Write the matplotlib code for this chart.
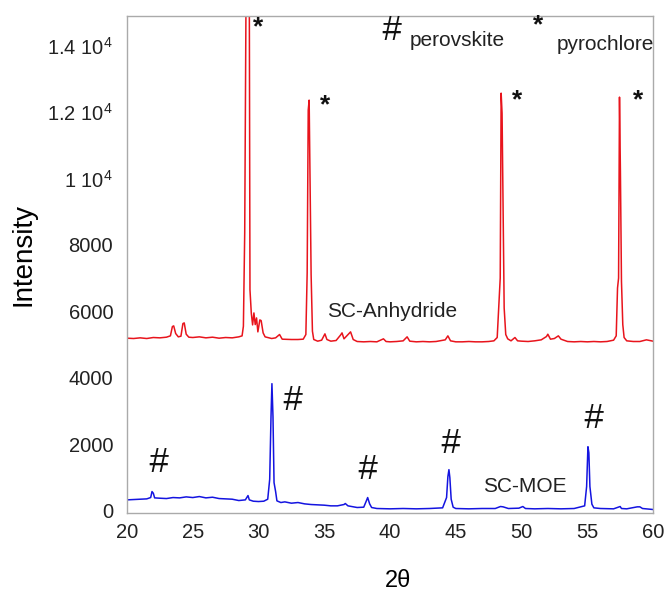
import matplotlib
matplotlib.use("Agg")
import matplotlib.pyplot as plt

plt.rcParams['font.family'] = ['Liberation Sans', 'DejaVu Sans']
plt.rcParams['mathtext.fontset'] = 'custom'
plt.rcParams['mathtext.rm'] = 'Liberation Sans'

# SC-Anhydride pattern (red)
red_x = [20.0, 20.5, 21.0, 21.5, 22.0, 22.5, 23.0, 23.3, 23.45, 23.55, 23.7, 23.9,
         24.1, 24.25, 24.35, 24.5, 24.7, 25.0, 25.5, 26.0, 26.5, 27.0, 27.5, 28.0,
         28.5, 28.75, 28.85, 28.95, 29.05, 29.15, 29.3, 29.35, 29.45, 29.55, 29.65,
         29.75, 29.85, 29.95, 30.1, 30.2, 30.35, 30.5, 30.8, 31.0, 31.3, 31.6, 31.8,
         32.5, 33.0, 33.4, 33.6, 33.7, 33.78, 33.85, 33.92, 34.0, 34.1, 34.2, 34.5,
         34.8, 35.05, 35.2, 35.5, 35.9, 36.25, 36.35, 36.5, 36.85, 37.0, 37.2, 37.5,
         38.0, 38.5, 39.0, 39.5, 39.7, 40.0, 40.5, 41.0, 41.3, 41.5, 42.0, 42.5, 43.0,
         43.5, 44.2, 44.4, 44.6, 45.0, 45.5, 46.0, 46.5, 47.0, 47.5, 47.9, 48.15,
         48.3, 48.38, 48.45, 48.52, 48.6, 48.68, 48.8, 48.95, 49.2, 49.5, 49.7, 50.0,
         50.5, 51.0, 51.5, 51.9, 52.0, 52.2, 52.5, 52.8, 53.0, 53.5, 54.0, 54.5, 55.0,
         55.5, 56.0, 56.5, 57.0, 57.2, 57.3, 57.38, 57.45, 57.52, 57.6, 57.7, 57.8,
         58.0, 58.5, 59.0, 59.5, 60.0]
red_y = [5190, 5180, 5200, 5180, 5210, 5200, 5220, 5260, 5540, 5560, 5330, 5230,
         5250, 5630, 5650, 5310, 5220, 5210, 5230, 5200, 5220, 5190, 5210, 5200,
         5230, 5260, 5550, 8360, 15500, 16500, 15500, 6650, 5950, 5590, 5950,
         5600, 5800, 5380, 5740, 5720, 5350, 5230, 5200, 5180, 5200, 5300, 5160,
         5150, 5150, 5160, 5300, 7160, 12060, 12360, 9950, 7100, 5400, 5150, 5100,
         5130, 5320, 5150, 5100, 5120, 5290, 5350, 5170, 5320, 5380, 5150, 5090,
         5080, 5090, 5080, 5170, 5090, 5080, 5090, 5110, 5230, 5100, 5080, 5090, 5080,
         5090, 5140, 5260, 5110, 5080, 5080, 5090, 5080, 5080, 5090, 5110, 5210,
         6400, 7000, 12570, 11970, 8900, 6100, 5300, 5170, 5110, 5210, 5110, 5100,
         5090, 5110, 5140, 5240, 5310, 5160, 5180, 5260, 5160, 5090, 5080, 5090, 5080,
         5090, 5080, 5090, 5130, 5260, 6700, 7000, 12450, 10200, 6900, 5600, 5210,
         5110, 5090, 5090, 5140, 5100]

# SC-MOE pattern (blue)
blue_x = [20.0, 20.5, 21.0, 21.5, 21.8, 21.9, 22.0, 22.1, 22.5, 23.0, 23.5, 24.0,
          24.5, 25.0, 25.5, 26.0, 26.5, 27.0, 27.5, 28.0, 28.5, 29.0, 29.2, 29.3,
          29.6, 30.0, 30.4, 30.7, 30.85, 30.95, 31.02, 31.1, 31.18, 31.3, 31.4, 31.7,
          32.0, 32.5, 33.0, 33.5, 34.0, 34.5, 35.0, 35.5, 36.0, 36.5, 36.6, 36.8,
          37.5, 38.0, 38.2, 38.3, 38.45, 38.6, 39.0, 40.0, 41.0, 42.0, 43.0, 44.0,
          44.3, 44.4, 44.48, 44.55, 44.65, 44.8, 45.0, 46.0, 47.0, 48.0, 48.4, 48.6,
          49.0, 49.8, 50.1, 50.3, 51.0, 52.0, 53.0, 54.0, 54.8, 54.95, 55.05, 55.12,
          55.2, 55.35, 55.5, 56.0, 57.0, 57.5, 57.6, 58.0, 58.8, 59.0, 59.2, 60.0]
blue_y = [320, 330, 340, 350, 390, 570, 520, 380, 370, 360, 390, 380,
          410, 390, 420, 380, 400, 360, 350, 340, 300, 320, 450, 320,
          280, 270, 280, 340, 940, 2830, 3820, 2830, 840, 570, 290, 240,
          260, 220, 240, 200, 180, 170, 160, 140, 140, 180, 210, 140,
          90, 100, 290, 390, 200, 90, 60, 50, 60, 50, 60, 80,
          390, 1020, 1230, 990, 340, 100, 60, 50, 60, 60, 120, 110,
          60, 70, 120, 60, 50, 60, 50, 60, 140, 720, 1920, 1740,
          720, 190, 80, 60, 50, 120, 60, 50, 110, 110, 60, 30]

yticks = [0, 2000, 4000, 6000, 8000, 10000, 12000, 14000]
ytick_labels = ['0', '2000', '4000', '6000', '8000',
                r'1 10$^{4}$', r'1.2 10$^{4}$', r'1.4 10$^{4}$']
xticks = [20, 25, 30, 35, 40, 45, 50, 55, 60]

# peak markers
star_x = [30.0, 35.1, 49.65, 58.85]
star_y = [14560, 12210, 12360, 12360]
hash_x = [22.35, 32.55, 38.25, 44.55, 55.45]
hash_y = [1440, 3310, 1230, 2010, 2770]

fig = plt.figure(figsize=(6.65, 5.97), dpi=100)
ax = fig.add_axes([0.191, 0.141, 0.791, 0.832])

ax.plot(red_x, red_y, color='#e8141c', lw=1.1)
ax.plot(blue_x, blue_y, color='#1414e0', lw=1.1)

for x, y in zip(star_x, star_y):
    ax.text(x, y, '*', fontsize=19, fontweight='bold', ha='center', va='center', color='#111111')
for x, y in zip(hash_x, hash_y):
    ax.text(x, y, '#', fontsize=25, style='italic', ha='center', va='center', color='#111111')

# legend-like labels
ax.text(40.1, 14470, '#', fontsize=25, style='italic', ha='center', va='center', color='#111111')
ax.text(41.5, 14170, 'perovskite', fontsize=15, ha='left', va='center', color='#222222')
ax.text(51.25, 14620, '*', fontsize=19, fontweight='bold', ha='center', va='center', color='#111111')
ax.text(52.7, 14050, 'pyrochlore', fontsize=15, ha='left', va='center', color='#222222')

ax.text(40.15, 5985, 'SC-Anhydride', fontsize=15, ha='center', va='center', color='#222222')
ax.text(50.27, 720, 'SC-MOE', fontsize=15, ha='center', va='center', color='#222222')

ax.set_xlim(20, 60)
ax.set_ylim(-70, 14890)
ax.set_xticks(xticks)
ax.set_yticks(yticks)
ax.set_yticklabels(ytick_labels)
ax.tick_params(length=0, labelsize=14.5, colors='#222222')
ax.tick_params(axis='x', pad=7)
ax.tick_params(axis='y', pad=10)
for s in ax.spines.values():
    s.set_color('#aaaaaa')
    s.set_linewidth(1.0)

ax.set_xlabel('2θ', fontsize=17)
ax.set_ylabel('Intensity', fontsize=20)
ax.xaxis.set_label_coords(0.515, -0.115)
ax.yaxis.set_label_coords(-0.173, 0.52)

fig.savefig('out.png', dpi=100)
